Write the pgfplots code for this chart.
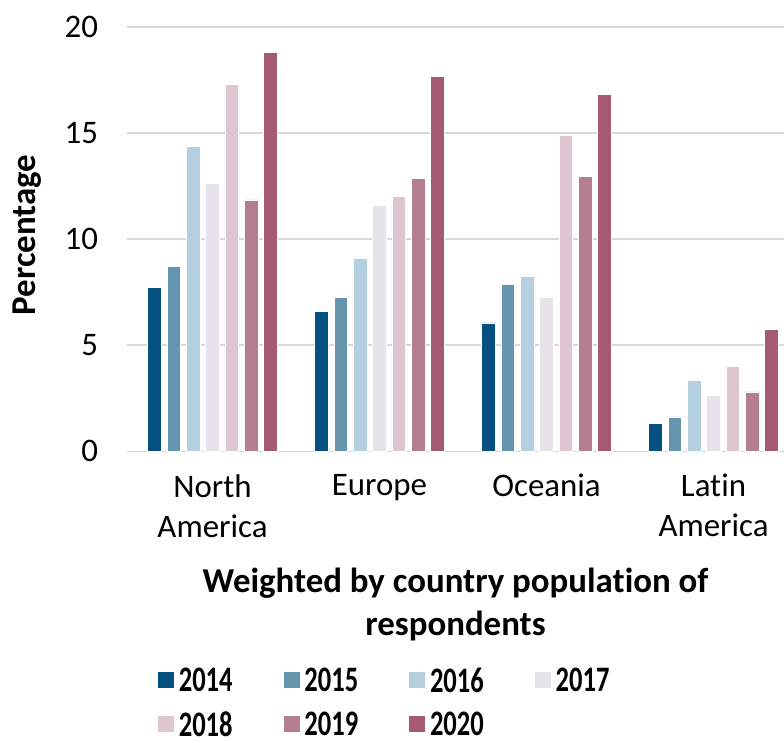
\documentclass[border=0pt]{standalone}
\usepackage{fontspec}
\setmainfont{Carlito}[Ligatures=NoCommon]
\newfontfamily\legfont[FakeStretch=0.74,Ligatures=NoCommon]{Carlito}
\usepackage{pgfplots}
\usepackage{pgfplotstable}
\pgfplotsset{compat=1.18}
\definecolor{c14}{HTML}{04507E}
\definecolor{c15}{HTML}{6495AF}
\definecolor{c16}{HTML}{B3CFE0}
\definecolor{c17}{HTML}{E6E4EA}
\definecolor{c18}{HTML}{DDC6D0}
\definecolor{c19}{HTML}{B57E90}
\definecolor{c20}{HTML}{A55A74}
\definecolor{gridc}{HTML}{D9D9D9}
\pgfplotstableread{
x  y14  y15  y16   y17   y18   y19   y20
0  7.72 8.71 14.37 12.61 17.29 11.85 18.80
1  6.58 7.25 9.08  11.57 12.03 12.86 17.67
2  6.05 7.88 8.25  7.25  14.90 12.97 16.84
3  1.32 1.62 3.36  2.62  4.01  2.80  5.75
}\datatable
\begin{document}
\begin{tikzpicture}
\begin{axis}[
  scale only axis,
  width=328.5bp, height=212.15bp,
  xmin=-0.512, xmax=3.422,
  ymin=0, ymax=20,
  ytick={0,5,10,15,20},
  xtick={0,1,2,3},
  xticklabels={{North\\America},Europe,Oceania,{Latin\\America}},
  axis line style={draw=none},
  major tick length=0pt,
  ymajorgrids,
  grid style={gridc, line width=0.8bp},
  /pgf/number format/assume math mode=true,
  yticklabel style={font=\fontsize{16.5}{20}\selectfont, anchor=east, xshift=-11bp},
  xticklabel style={font=\fontsize{16.5}{20}\selectfont, align=center, anchor=north, yshift=-8bp},
  ylabel={Percentage},
  ylabel style={font=\bfseries\fontsize{17.5}{21}\selectfont, at={(axis description cs:-0.1525,0.51)}, anchor=center},
  xlabel={Weighted by country population of\\respondents},
  xlabel style={font=\bfseries\fontsize{17.5}{21.5}\selectfont, align=center, at={(axis description cs:0.5,0)}, anchor=north, yshift=-55bp},
  ybar, bar width=0.082,
  legend columns=4,
  legend style={draw=none, fill=none, at={(axis description cs:0.036,-0.498)}, anchor=north west,
    font=\legfont\bfseries\fontsize{18}{22.5}\selectfont,
    row sep=8.5bp,
    /tikz/every even column/.append style={column sep=23bp},
    nodes={inner xsep=2bp, inner ysep=0.5bp, text depth=0pt}},
  legend cell align=left,
  legend image code/.code={\fill[#1] (0bp,-4.25bp) rectangle (8.5bp,4.25bp);},
  every axis plot/.append style={draw=white, line width=0.4bp},
]
\addplot[fill=c14, bar shift=-0.3468] table[x=x,y=y14]{\datatable};
\addplot[fill=c15, bar shift=-0.2312] table[x=x,y=y15]{\datatable};
\addplot[fill=c16, bar shift=-0.1156] table[x=x,y=y16]{\datatable};
\addplot[fill=c17, bar shift=0] table[x=x,y=y17]{\datatable};
\addplot[fill=c18, bar shift=0.1156] table[x=x,y=y18]{\datatable};
\addplot[fill=c19, bar shift=0.2312] table[x=x,y=y19]{\datatable};
\addplot[fill=c20, bar shift=0.3468] table[x=x,y=y20]{\datatable};
\legend{2014,2015,2016,2017,2018,2019,2020}
\end{axis}
\pgfresetboundingbox
\path[use as bounding box] ([xshift=-63.5bp,yshift=-145.5bp]current axis.south west) rectangle ([yshift=13.5bp]current axis.north east);
\end{tikzpicture}
\end{document}
